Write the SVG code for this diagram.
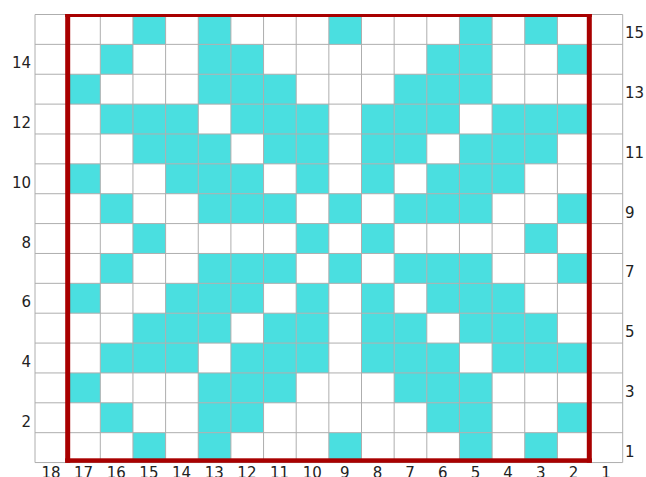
<svg xmlns="http://www.w3.org/2000/svg" xmlns:xlink="http://www.w3.org/1999/xlink" width="646" height="477" viewBox="0 0 646 477">
<style>
.f{fill:#4adfe0}
.g line{stroke:#aeaeae;stroke-width:1}
.lab{font-family:"DejaVu Sans",Verdana,sans-serif;font-size:15px;fill:#222}
.fr{fill:#a80000}
</style>
<defs>
<rect id="c" class="f" width="32.65" height="29.87"/>
</defs>
<rect x="0" y="0" width="646" height="477" fill="#fff"/>
<g id="cells">
<!-- row 15 -->
<use xlink:href="#c" x="132.95" y="14.5"/><use xlink:href="#c" x="198.25" y="14.5"/><use xlink:href="#c" x="328.85" y="14.5"/><use xlink:href="#c" x="459.45" y="14.5"/><use xlink:href="#c" x="524.75" y="14.5"/>
<!-- row 14 -->
<use xlink:href="#c" x="100.3" y="44.37"/><use xlink:href="#c" x="198.25" y="44.37"/><use xlink:href="#c" x="230.9" y="44.37"/><use xlink:href="#c" x="426.8" y="44.37"/><use xlink:href="#c" x="459.45" y="44.37"/><use xlink:href="#c" x="557.4" y="44.37"/>
<!-- row 13 -->
<use xlink:href="#c" x="67.65" y="74.24"/><use xlink:href="#c" x="198.25" y="74.24"/><use xlink:href="#c" x="230.9" y="74.24"/><use xlink:href="#c" x="263.55" y="74.24"/><use xlink:href="#c" x="394.15" y="74.24"/><use xlink:href="#c" x="426.8" y="74.24"/><use xlink:href="#c" x="459.45" y="74.24"/>
<!-- row 12 -->
<use xlink:href="#c" x="100.3" y="104.11"/><use xlink:href="#c" x="132.95" y="104.11"/><use xlink:href="#c" x="165.6" y="104.11"/><use xlink:href="#c" x="230.9" y="104.11"/><use xlink:href="#c" x="263.55" y="104.11"/><use xlink:href="#c" x="296.2" y="104.11"/><use xlink:href="#c" x="361.5" y="104.11"/><use xlink:href="#c" x="394.15" y="104.11"/><use xlink:href="#c" x="426.8" y="104.11"/><use xlink:href="#c" x="492.1" y="104.11"/><use xlink:href="#c" x="524.75" y="104.11"/><use xlink:href="#c" x="557.4" y="104.11"/>
<!-- row 11 -->
<use xlink:href="#c" x="132.95" y="133.98"/><use xlink:href="#c" x="165.6" y="133.98"/><use xlink:href="#c" x="198.25" y="133.98"/><use xlink:href="#c" x="263.55" y="133.98"/><use xlink:href="#c" x="296.2" y="133.98"/><use xlink:href="#c" x="361.5" y="133.98"/><use xlink:href="#c" x="394.15" y="133.98"/><use xlink:href="#c" x="459.45" y="133.98"/><use xlink:href="#c" x="492.1" y="133.98"/><use xlink:href="#c" x="524.75" y="133.98"/>
<!-- row 10 -->
<use xlink:href="#c" x="67.65" y="163.85"/><use xlink:href="#c" x="165.6" y="163.85"/><use xlink:href="#c" x="198.25" y="163.85"/><use xlink:href="#c" x="230.9" y="163.85"/><use xlink:href="#c" x="296.2" y="163.85"/><use xlink:href="#c" x="361.5" y="163.85"/><use xlink:href="#c" x="426.8" y="163.85"/><use xlink:href="#c" x="459.45" y="163.85"/><use xlink:href="#c" x="492.1" y="163.85"/>
<!-- row 9 -->
<use xlink:href="#c" x="100.3" y="193.72"/><use xlink:href="#c" x="198.25" y="193.72"/><use xlink:href="#c" x="230.9" y="193.72"/><use xlink:href="#c" x="263.55" y="193.72"/><use xlink:href="#c" x="328.85" y="193.72"/><use xlink:href="#c" x="394.15" y="193.72"/><use xlink:href="#c" x="426.8" y="193.72"/><use xlink:href="#c" x="459.45" y="193.72"/><use xlink:href="#c" x="557.4" y="193.72"/>
<!-- row 8 -->
<use xlink:href="#c" x="132.95" y="223.59"/><use xlink:href="#c" x="296.2" y="223.59"/><use xlink:href="#c" x="361.5" y="223.59"/><use xlink:href="#c" x="524.75" y="223.59"/>
<!-- row 7 -->
<use xlink:href="#c" x="100.3" y="253.46"/><use xlink:href="#c" x="198.25" y="253.46"/><use xlink:href="#c" x="230.9" y="253.46"/><use xlink:href="#c" x="263.55" y="253.46"/><use xlink:href="#c" x="328.85" y="253.46"/><use xlink:href="#c" x="394.15" y="253.46"/><use xlink:href="#c" x="426.8" y="253.46"/><use xlink:href="#c" x="459.45" y="253.46"/><use xlink:href="#c" x="557.4" y="253.46"/>
<!-- row 6 -->
<use xlink:href="#c" x="67.65" y="283.33"/><use xlink:href="#c" x="165.6" y="283.33"/><use xlink:href="#c" x="198.25" y="283.33"/><use xlink:href="#c" x="230.9" y="283.33"/><use xlink:href="#c" x="296.2" y="283.33"/><use xlink:href="#c" x="361.5" y="283.33"/><use xlink:href="#c" x="426.8" y="283.33"/><use xlink:href="#c" x="459.45" y="283.33"/><use xlink:href="#c" x="492.1" y="283.33"/>
<!-- row 5 -->
<use xlink:href="#c" x="132.95" y="313.2"/><use xlink:href="#c" x="165.6" y="313.2"/><use xlink:href="#c" x="198.25" y="313.2"/><use xlink:href="#c" x="263.55" y="313.2"/><use xlink:href="#c" x="296.2" y="313.2"/><use xlink:href="#c" x="361.5" y="313.2"/><use xlink:href="#c" x="394.15" y="313.2"/><use xlink:href="#c" x="459.45" y="313.2"/><use xlink:href="#c" x="492.1" y="313.2"/><use xlink:href="#c" x="524.75" y="313.2"/>
<!-- row 4 -->
<use xlink:href="#c" x="100.3" y="343.07"/><use xlink:href="#c" x="132.95" y="343.07"/><use xlink:href="#c" x="165.6" y="343.07"/><use xlink:href="#c" x="230.9" y="343.07"/><use xlink:href="#c" x="263.55" y="343.07"/><use xlink:href="#c" x="296.2" y="343.07"/><use xlink:href="#c" x="361.5" y="343.07"/><use xlink:href="#c" x="394.15" y="343.07"/><use xlink:href="#c" x="426.8" y="343.07"/><use xlink:href="#c" x="492.1" y="343.07"/><use xlink:href="#c" x="524.75" y="343.07"/><use xlink:href="#c" x="557.4" y="343.07"/>
<!-- row 3 -->
<use xlink:href="#c" x="67.65" y="372.94"/><use xlink:href="#c" x="198.25" y="372.94"/><use xlink:href="#c" x="230.9" y="372.94"/><use xlink:href="#c" x="263.55" y="372.94"/><use xlink:href="#c" x="394.15" y="372.94"/><use xlink:href="#c" x="426.8" y="372.94"/><use xlink:href="#c" x="459.45" y="372.94"/>
<!-- row 2 -->
<use xlink:href="#c" x="100.3" y="402.81"/><use xlink:href="#c" x="198.25" y="402.81"/><use xlink:href="#c" x="230.9" y="402.81"/><use xlink:href="#c" x="426.8" y="402.81"/><use xlink:href="#c" x="459.45" y="402.81"/><use xlink:href="#c" x="557.4" y="402.81"/>
<!-- row 1 -->
<use xlink:href="#c" x="132.95" y="432.68"/><use xlink:href="#c" x="198.25" y="432.68"/><use xlink:href="#c" x="328.85" y="432.68"/><use xlink:href="#c" x="459.45" y="432.68"/><use xlink:href="#c" x="524.75" y="432.68"/>
</g>
<g id="grid" class="g">
<line x1="35" y1="14.5" x2="35" y2="462.55"/>
<line x1="67.65" y1="14.5" x2="67.65" y2="462.55"/>
<line x1="100.3" y1="14.5" x2="100.3" y2="462.55"/>
<line x1="132.95" y1="14.5" x2="132.95" y2="462.55"/>
<line x1="165.6" y1="14.5" x2="165.6" y2="462.55"/>
<line x1="198.25" y1="14.5" x2="198.25" y2="462.55"/>
<line x1="230.9" y1="14.5" x2="230.9" y2="462.55"/>
<line x1="263.55" y1="14.5" x2="263.55" y2="462.55"/>
<line x1="296.2" y1="14.5" x2="296.2" y2="462.55"/>
<line x1="328.85" y1="14.5" x2="328.85" y2="462.55"/>
<line x1="361.5" y1="14.5" x2="361.5" y2="462.55"/>
<line x1="394.15" y1="14.5" x2="394.15" y2="462.55"/>
<line x1="426.8" y1="14.5" x2="426.8" y2="462.55"/>
<line x1="459.45" y1="14.5" x2="459.45" y2="462.55"/>
<line x1="492.1" y1="14.5" x2="492.1" y2="462.55"/>
<line x1="524.75" y1="14.5" x2="524.75" y2="462.55"/>
<line x1="557.4" y1="14.5" x2="557.4" y2="462.55"/>
<line x1="590.05" y1="14.5" x2="590.05" y2="462.55"/>
<line x1="622.7" y1="14.5" x2="622.7" y2="462.55"/>
<line x1="35" y1="14.5" x2="622.7" y2="14.5"/>
<line x1="35" y1="44.37" x2="622.7" y2="44.37"/>
<line x1="35" y1="74.24" x2="622.7" y2="74.24"/>
<line x1="35" y1="104.11" x2="622.7" y2="104.11"/>
<line x1="35" y1="133.98" x2="622.7" y2="133.98"/>
<line x1="35" y1="163.85" x2="622.7" y2="163.85"/>
<line x1="35" y1="193.72" x2="622.7" y2="193.72"/>
<line x1="35" y1="223.59" x2="622.7" y2="223.59"/>
<line x1="35" y1="253.46" x2="622.7" y2="253.46"/>
<line x1="35" y1="283.33" x2="622.7" y2="283.33"/>
<line x1="35" y1="313.2" x2="622.7" y2="313.2"/>
<line x1="35" y1="343.07" x2="622.7" y2="343.07"/>
<line x1="35" y1="372.94" x2="622.7" y2="372.94"/>
<line x1="35" y1="402.81" x2="622.7" y2="402.81"/>
<line x1="35" y1="432.68" x2="622.7" y2="432.68"/>
<line x1="35" y1="462.55" x2="622.7" y2="462.55"/>
</g>
<g id="frame">
<rect class="fr" x="65.2" y="14" width="5" height="448.7"/>
<rect class="fr" x="586.8" y="14" width="5" height="448.7"/>
<rect class="fr" x="65.2" y="14" width="526.6" height="3"/>
<rect class="fr" x="65.2" y="458.3" width="526.6" height="4.5"/>
</g>
<g id="row-labels" class="lab">
<text x="31" y="68.3" text-anchor="end">14</text>
<text x="31" y="128" text-anchor="end">12</text>
<text x="31" y="187.8" text-anchor="end">10</text>
<text x="31" y="247.5" text-anchor="end">8</text>
<text x="31" y="307.3" text-anchor="end">6</text>
<text x="31" y="367" text-anchor="end">4</text>
<text x="31" y="426.7" text-anchor="end">2</text>
<text x="625" y="38.4">15</text>
<text x="625" y="98.2">13</text>
<text x="625" y="157.9">11</text>
<text x="625" y="217.7">9</text>
<text x="625" y="277.4">7</text>
<text x="625" y="337.1">5</text>
<text x="625" y="396.9">3</text>
<text x="625" y="456.6">1</text>
</g>
<g id="col-labels" class="lab" text-anchor="middle">
<text x="51" y="478.3">18</text>
<text x="83.6" y="478.3">17</text>
<text x="116.3" y="478.3">16</text>
<text x="148.9" y="478.3">15</text>
<text x="181.6" y="478.3">14</text>
<text x="214.2" y="478.3">13</text>
<text x="246.9" y="478.3">12</text>
<text x="279.5" y="478.3">11</text>
<text x="312.2" y="478.3">10</text>
<text x="344.8" y="478.3">9</text>
<text x="377.5" y="478.3">8</text>
<text x="410.1" y="478.3">7</text>
<text x="442.8" y="478.3">6</text>
<text x="475.4" y="478.3">5</text>
<text x="508.1" y="478.3">4</text>
<text x="540.7" y="478.3">3</text>
<text x="573.4" y="478.3">2</text>
<text x="606" y="478.3">1</text>
</g>
</svg>
